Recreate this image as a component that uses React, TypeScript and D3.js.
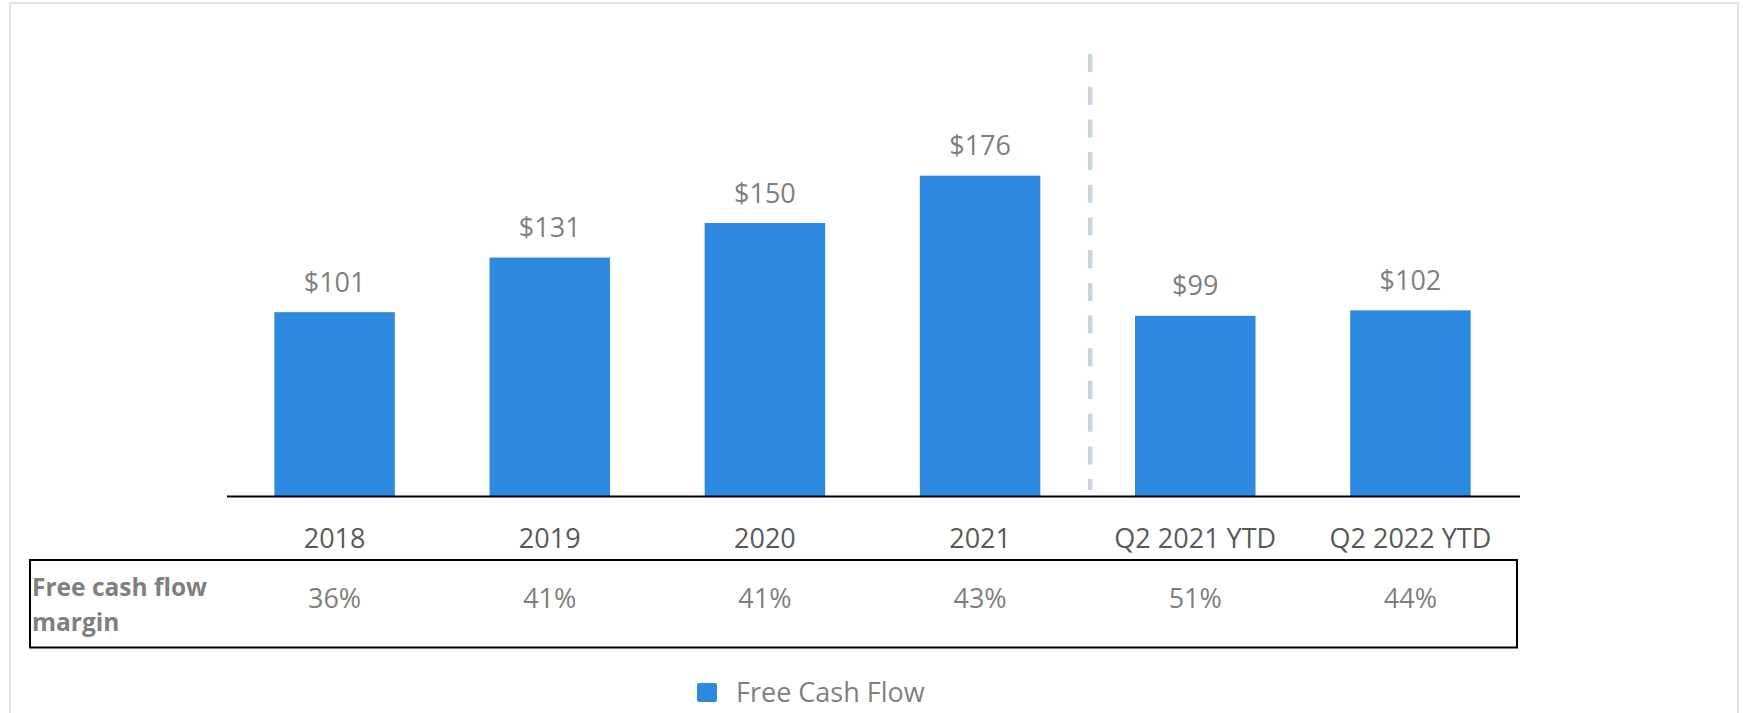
import React, { useEffect, useRef } from "react";
import * as d3 from "d3";

const categories = ["2018", "2019", "2020", "2021", "Q2 2021 YTD", "Q2 2022 YTD"];
const freeCashFlow = [101, 131, 150, 176, 99, 102];
const fcfMargin = [36, 41, 41, 43, 51, 44];
const rowLabel = ["Free cash flow", "margin"];
const legendLabel = "Free Cash Flow";

const App: React.FC = () => {
  const svgRef = useRef<SVGSVGElement>(null);

  useEffect(() => {
    if (!svgRef.current) return;
    const svg = d3.select(svgRef.current);
    svg.selectAll("*").remove();

    const width = 1743;
    const height = 713;
    const font = "'Open Sans', sans-serif";
    const barColor = "#2E8AE0";

    svg.attr("width", width).attr("height", height);

    // outer frame
    svg
      .append("rect")
      .attr("x", 10)
      .attr("y", 3)
      .attr("width", 1728)
      .attr("height", 720)
      .attr("fill", "#fff")
      .attr("stroke", "#e3e3e3")
      .attr("stroke-width", 2);

    const x = d3
      .scaleBand<string>()
      .domain(categories)
      .range([227, 1518])
      .paddingInner(0.44)
      .paddingOuter(0.22);

    const y = d3.scaleLinear().domain([0, 200]).range([496, 132]);

    const data = categories.map((c, i) => ({
      cat: c,
      value: freeCashFlow[i],
      margin: fcfMargin[i],
    }));

    // bars
    svg
      .append("g")
      .selectAll("rect")
      .data(data)
      .join("rect")
      .attr("x", (d) => x(d.cat)!)
      .attr("y", (d) => y(d.value))
      .attr("width", x.bandwidth())
      .attr("height", (d) => y(0) - y(d.value))
      .attr("fill", barColor);

    // value labels
    svg
      .append("g")
      .selectAll("text")
      .data(data)
      .join("text")
      .attr("x", (d) => x(d.cat)! + x.bandwidth() / 2)
      .attr("y", (d) => y(d.value) - 20.5)
      .attr("text-anchor", "middle")
      .style("font-family", font)
      .style("font-size", "27px")
      .attr("fill", "#7f7f7f")
      .text((d) => `$${d.value}`);

    // dashed separator between annual and YTD figures
    const sepX = x(categories[4])! - (x.step() * x.paddingInner()) / 2 + 2.5;
    svg
      .append("line")
      .attr("x1", sepX)
      .attr("x2", sepX)
      .attr("y1", 54)
      .attr("y2", 490)
      .attr("stroke", "#c8d3df")
      .attr("stroke-width", 4.5)
      .attr("stroke-dasharray", "18 14.7");

    // baseline axis
    svg
      .append("line")
      .attr("x1", 227)
      .attr("x2", 1520)
      .attr("y1", y(0) + 0.5)
      .attr("y2", y(0) + 0.5)
      .attr("stroke", "#000")
      .attr("stroke-width", 2);

    // category labels
    svg
      .append("g")
      .selectAll("text")
      .data(data)
      .join("text")
      .attr("x", (d) => x(d.cat)! + x.bandwidth() / 2)
      .attr("y", 548)
      .attr("text-anchor", "middle")
      .style("font-family", font)
      .style("font-size", "27px")
      .attr("fill", "#595959")
      .text((d) => d.cat);

    // margin table
    svg
      .append("rect")
      .attr("x", 30)
      .attr("y", 560)
      .attr("width", 1487)
      .attr("height", 87.5)
      .attr("fill", "none")
      .attr("stroke", "#000")
      .attr("stroke-width", 2);

    svg
      .append("text")
      .attr("x", 32)
      .attr("y", 596)
      .style("font-family", font)
      .style("font-size", "24.5px")
      .style("font-weight", "bold")
      .attr("fill", "#7f7f7f")
      .selectAll("tspan")
      .data(rowLabel)
      .join("tspan")
      .attr("x", 32)
      .attr("dy", (_, i) => (i === 0 ? 0 : 35))
      .text((d) => d);

    svg
      .append("g")
      .selectAll("text")
      .data(data)
      .join("text")
      .attr("x", (d) => x(d.cat)! + x.bandwidth() / 2)
      .attr("y", 608)
      .attr("text-anchor", "middle")
      .style("font-family", font)
      .style("font-size", "27px")
      .attr("fill", "#7f7f7f")
      .text((d) => `${d.margin}%`);

    // legend
    const legend = svg.append("g").attr("transform", "translate(697,683)");
    legend
      .append("rect")
      .attr("width", 20)
      .attr("height", 19)
      .attr("rx", 2)
      .attr("fill", barColor);
    legend
      .append("text")
      .attr("x", 39)
      .attr("y", 19)
      .style("font-family", font)
      .style("font-size", "27px")
      .attr("fill", "#7f7f7f")
      .text(legendLabel);
  }, []);

  return (
    <div style={{ position: "absolute", left: 0, top: 0 }}>
      <svg ref={svgRef} style={{ display: "block" }} />
    </div>
  );
};

export default App;
